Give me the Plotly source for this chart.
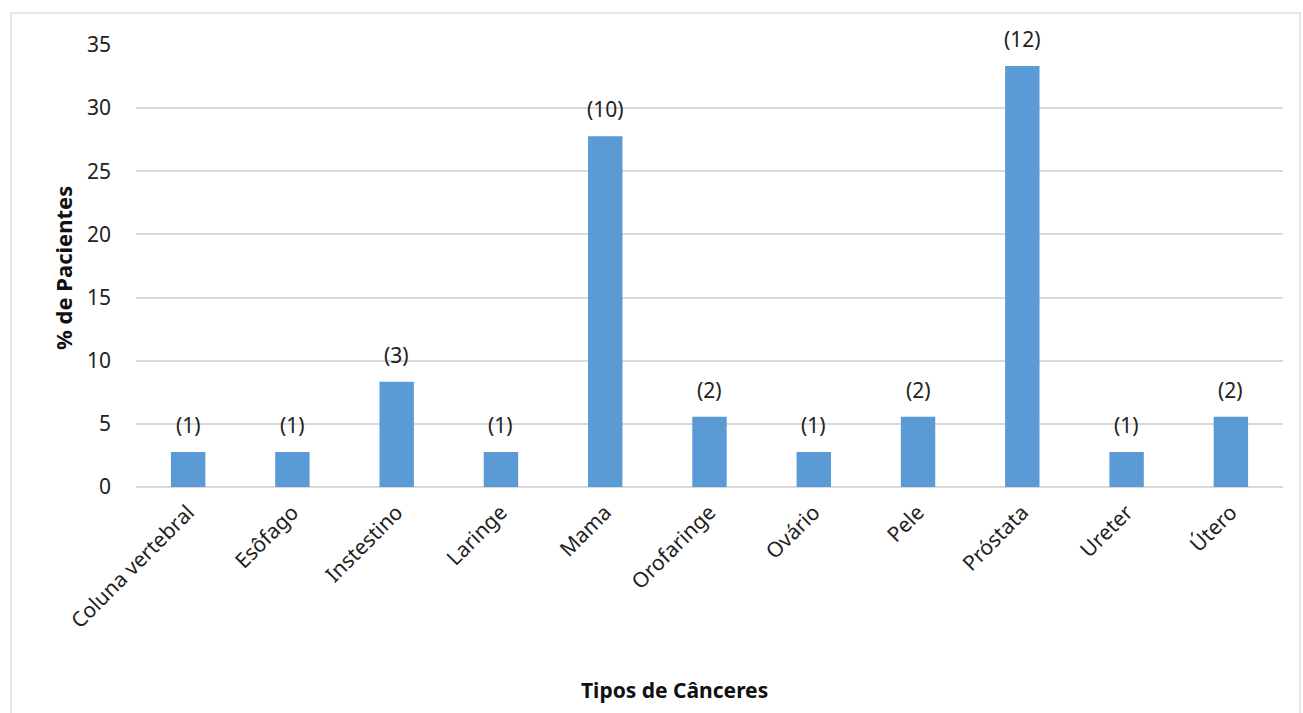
import plotly.graph_objects as go

# Cancer types and number of patients per type
categories = ["Coluna vertebral", "Esôfago", "Instestino", "Laringe", "Mama",
              "Orofaringe", "Ovário", "Pele", "Próstata", "Ureter", "Útero"]
patients = [1, 1, 3, 1, 10, 2, 1, 2, 12, 1, 2]
total_patients = sum(patients)
percent = [n / total_patients * 100 for n in patients]
count_labels = [f"({n})" for n in patients]

y_ticks = [0, 5, 10, 15, 20, 25, 30, 35]

W, H = 1303, 713
L, R, T, B = 136, 20, 45, 226
pw, ph = W - L - R, H - T - B

font = "Noto Sans, Open Sans, sans-serif"
bar_color = "#5b9bd5"

fig = go.Figure()
fig.add_trace(go.Bar(
    x=categories, y=percent,
    marker=dict(color=bar_color, line=dict(width=0)),
    width=0.33,
    hoverinfo="x+y",
))

annotations = [
    dict(x=c, y=v, text=t, showarrow=False, xref="x", yref="y",
         yanchor="bottom", yshift=11,
         font=dict(family=font, size=21, color="#222222"))
    for c, v, t in zip(categories, percent, count_labels)
]
annotations.append(dict(
    text="<b>Tipos de Cânceres</b>", xref="paper", yref="paper",
    x=(674 - L) / pw, y=-(690 - (T + ph)) / ph, showarrow=False,
    xanchor="center", yanchor="middle",
    font=dict(family=font, size=21, color="#111111")))
annotations.append(dict(
    text="<b>% de Pacientes</b>", xref="paper", yref="paper",
    x=-(L - 63) / pw, y=1 - (268 - T) / ph, showarrow=False, textangle=-90,
    xanchor="center", yanchor="middle",
    font=dict(family=font, size=22, color="#111111")))

fig.update_layout(
    width=W, height=H,
    margin=dict(l=L, r=R, t=T, b=B),
    paper_bgcolor="white", plot_bgcolor="white",
    showlegend=False,
    bargap=0.67,
    annotations=annotations,
    shapes=[dict(type="rect", xref="paper", yref="paper",
                 x0=-(L - 11) / pw, x1=1 + (R - 3) / pw,
                 y0=-(H + 10 - T - ph) / ph, y1=1 + (T - 13) / ph,
                 line=dict(color="#dedede", width=1.5), layer="below")],
    xaxis=dict(
        tickangle=-45, tickfont=dict(family=font, size=21, color="#222222"),
        showgrid=False, showline=False, ticks="", zeroline=False,
        ticklabelstandoff=8,
    ),
    yaxis=dict(
        range=[0, 35], tickvals=y_ticks,
        tickfont=dict(family=font, size=21, color="#222222"),
        showgrid=True, gridcolor="#d9d9d9", gridwidth=1.5,
        zeroline=True, zerolinecolor="#d9d9d9", zerolinewidth=1.5,
        showline=False, ticks="", ticklabelstandoff=24,
    ),
)

fig.write_html("out.html")
